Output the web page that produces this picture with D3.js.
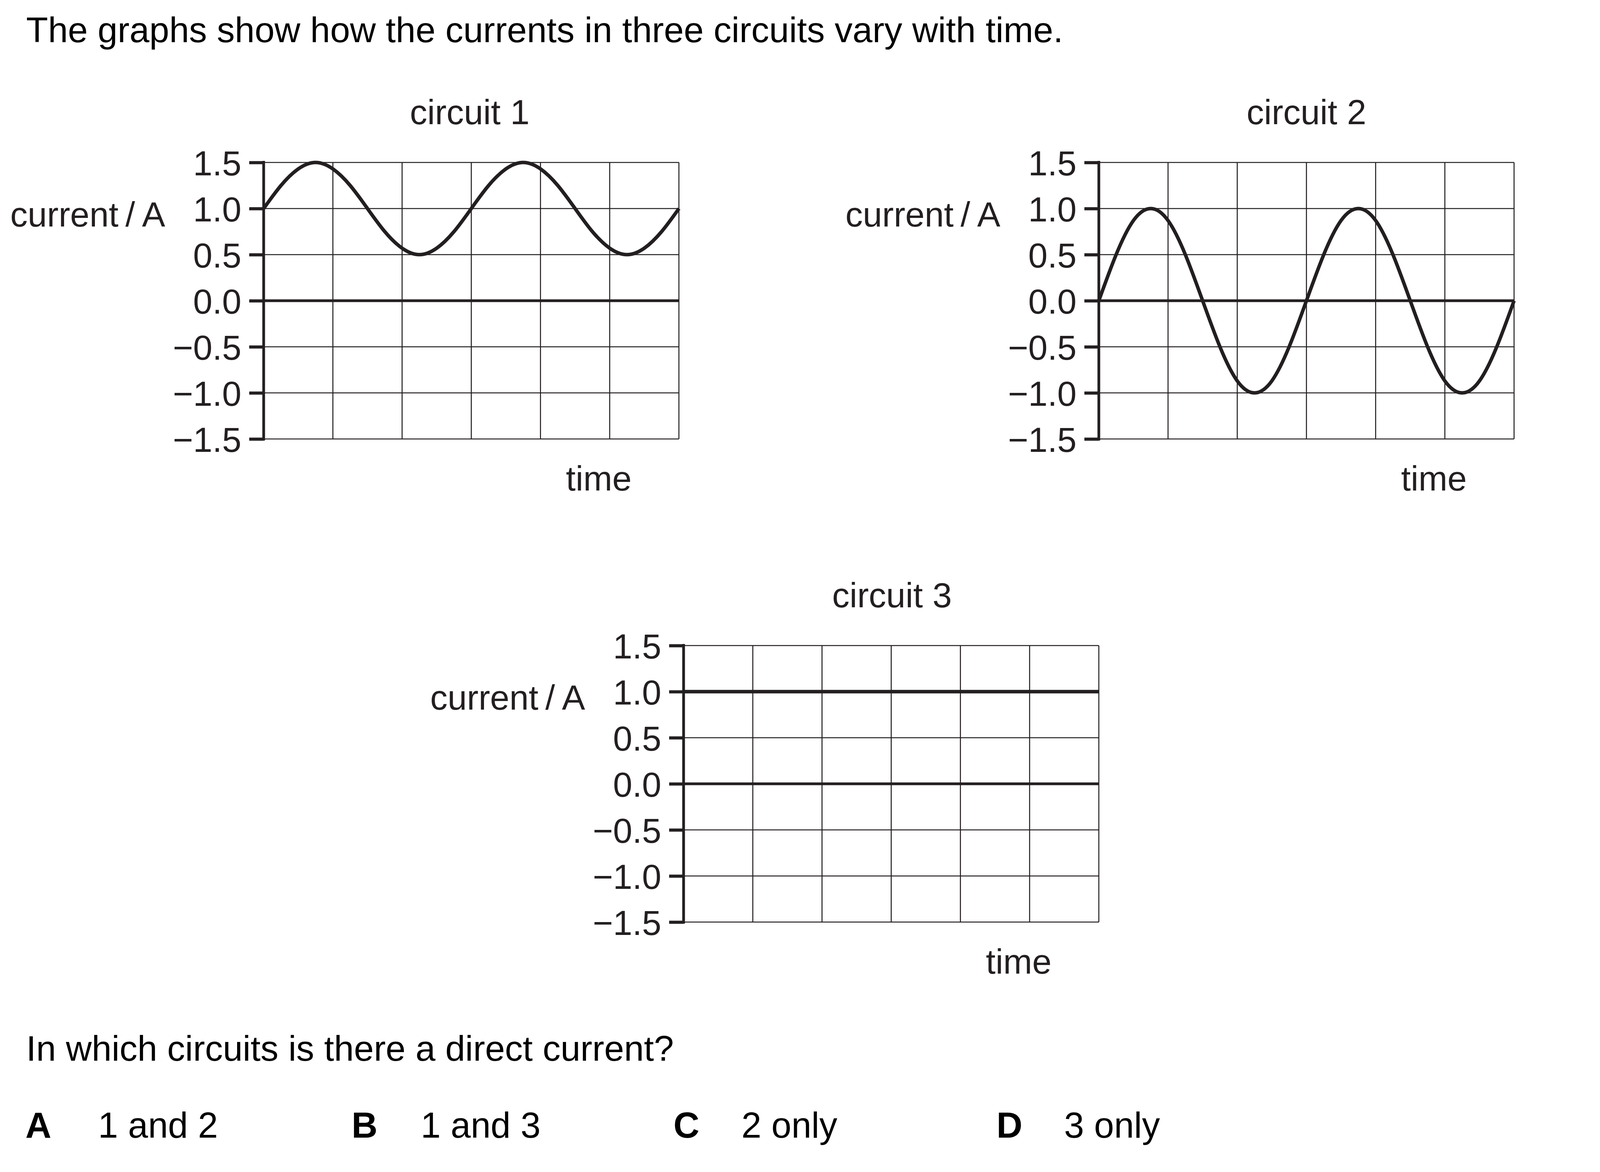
<!DOCTYPE html>
<html>
<head>
<meta charset="utf-8">
<script src="https://cdn.jsdelivr.net/npm/d3@7"></script>
<style>
  html, body { margin: 0; padding: 0; background: #fff; }
  svg { display: block; }
  text { font-family: "Liberation Sans", Arial, Helvetica, sans-serif; }
</style>
</head>
<body>
<svg id="chart" width="4200" height="3001"></svg>
<script>
// ---------- data ----------
const circuitNames = ["circuit 1", "circuit 2", "circuit 3"];
const yTicks = [-1.5, -1.0, -0.5, 0.0, 0.5, 1.0, 1.5];
const timeGrid = [0, 1, 2, 3, 4, 5, 6];   // grid columns (arbitrary time units)
const timePoints = [0, 0.25, 0.5, 0.75, 1, 1.25, 1.5, 1.75, 2, 2.25, 2.5, 2.75, 3,
                    3.25, 3.5, 3.75, 4, 4.25, 4.5, 4.75, 5, 5.25, 5.5, 5.75, 6];
const circuit1Current = [1.0, 1.25, 1.43, 1.5, 1.43, 1.25, 1.0, 0.75, 0.57, 0.5, 0.57, 0.75, 1.0,
                         1.25, 1.43, 1.5, 1.43, 1.25, 1.0, 0.75, 0.57, 0.5, 0.57, 0.75, 1.0];
const circuit2Current = [0.0, 0.5, 0.87, 1.0, 0.87, 0.5, 0.0, -0.5, -0.87, -1.0, -0.87, -0.5, 0.0,
                         0.5, 0.87, 1.0, 0.87, 0.5, 0.0, -0.5, -0.87, -1.0, -0.87, -0.5, 0.0];
const circuit3Current = [1.0, 1.0, 1.0, 1.0, 1.0, 1.0, 1.0, 1.0, 1.0, 1.0, 1.0, 1.0, 1.0,
                         1.0, 1.0, 1.0, 1.0, 1.0, 1.0, 1.0, 1.0, 1.0, 1.0, 1.0, 1.0];
const yLabel = "current\u2009/\u2009A";
const xLabel = "time";
const questionTop = "The graphs show how the currents in three circuits vary with time.";
const questionBottom = "In which circuits is there a direct current?";
const optionLetters = ["A", "B", "C", "D"];
const optionTexts = ["1 and 2", "1 and 3", "2 only", "3 only"];

// ---------- layout ----------
const svg = d3.select("#chart");
const INK = "#231f20";
const PW = 1063, PH = 708;
const panels = [
  { x0: 675,  y0: 416,  values: circuit1Current, titleDx: -4 },
  { x0: 2813, y0: 416,  values: circuit2Current, titleDx: 0 },
  { x0: 1750, y0: 1653, values: circuit3Current, titleDx: 2 }
];

svg.append("text")
  .attr("x", 67).attr("y", 108)
  .attr("font-size", 91.5).attr("fill", "#000")
  .text(questionTop);

panels.forEach((p, i) => {
  const x = d3.scaleLinear().domain([0, 6]).range([p.x0, p.x0 + PW]);
  const y = d3.scaleLinear().domain([-1.5, 1.5]).range([p.y0 + PH, p.y0]);
  const g = svg.append("g");

  // grid
  g.append("g").selectAll("line").data(yTicks).join("line")
    .attr("x1", x(0)).attr("x2", x(6))
    .attr("y1", d => y(d)).attr("y2", d => y(d))
    .attr("stroke", INK)
    .attr("stroke-width", d => d === 0 ? 7 : 2.6);
  g.append("g").selectAll("line").data(timeGrid.slice(1)).join("line")
    .attr("x1", d => x(d)).attr("x2", d => x(d))
    .attr("y1", y(1.5)).attr("y2", y(-1.5))
    .attr("stroke", INK).attr("stroke-width", 2.6);

  // y axis
  const axis = d3.axisLeft(y)
    .tickValues(yTicks)
    .tickFormat(d3.format(".1f"))
    .tickSizeInner(37).tickSizeOuter(0).tickPadding(20);
  const ag = g.append("g").attr("transform", `translate(${p.x0},0)`).call(axis);
  ag.select(".domain").attr("stroke", INK).attr("stroke-width", 7)
    .attr("d", `M0,${y(1.5) - 4}V${y(-1.5) + 4}`);
  ag.selectAll(".tick line").attr("stroke", INK).attr("stroke-width", 8);
  ag.selectAll(".tick text")
    .attr("font-size", 89).attr("fill", INK)
    .attr("font-family", "'Liberation Sans', Arial, sans-serif")
    .attr("dy", "0.36em");

  // curve
  const line = d3.line()
    .x((d, k) => x(timePoints[k]))
    .y(d => y(d))
    .curve(d3.curveNatural);
  g.append("path").datum(p.values)
    .attr("d", line)
    .attr("fill", "none").attr("stroke", INK)
    .attr("stroke-width", 9).attr("stroke-linecap", "butt");

  // labels
  g.append("text")
    .attr("x", (x(0) + x(6)) / 2 + p.titleDx).attr("y", p.y0 - 98)
    .attr("text-anchor", "middle").attr("font-size", 89).attr("fill", INK)
    .text(circuitNames[i]);
  g.append("text")
    .attr("x", p.x0 - 252).attr("y", y(1.0) + 46)
    .attr("text-anchor", "end").attr("font-size", 89).attr("fill", INK)
    .text(yLabel);
  g.append("text")
    .attr("x", x(6) - 121).attr("y", y(-1.5) + 132)
    .attr("text-anchor", "end").attr("font-size", 89).attr("fill", INK)
    .text(xLabel);
});

svg.append("text")
  .attr("x", 67).attr("y", 2716)
  .attr("font-size", 91.5).attr("fill", "#000")
  .text(questionBottom);

const letterX = [65, 900, 1724, 2551];
const textX = [251, 1077, 1898, 2724];
optionLetters.forEach((L, i) => {
  svg.append("text").attr("x", letterX[i]).attr("y", 2913)
    .attr("font-size", 92).attr("font-weight", "bold").attr("fill", "#000").text(L);
  svg.append("text").attr("x", textX[i]).attr("y", 2913)
    .attr("font-size", 92).attr("fill", "#000").text(optionTexts[i]);
});
</script>
</body>
</html>
